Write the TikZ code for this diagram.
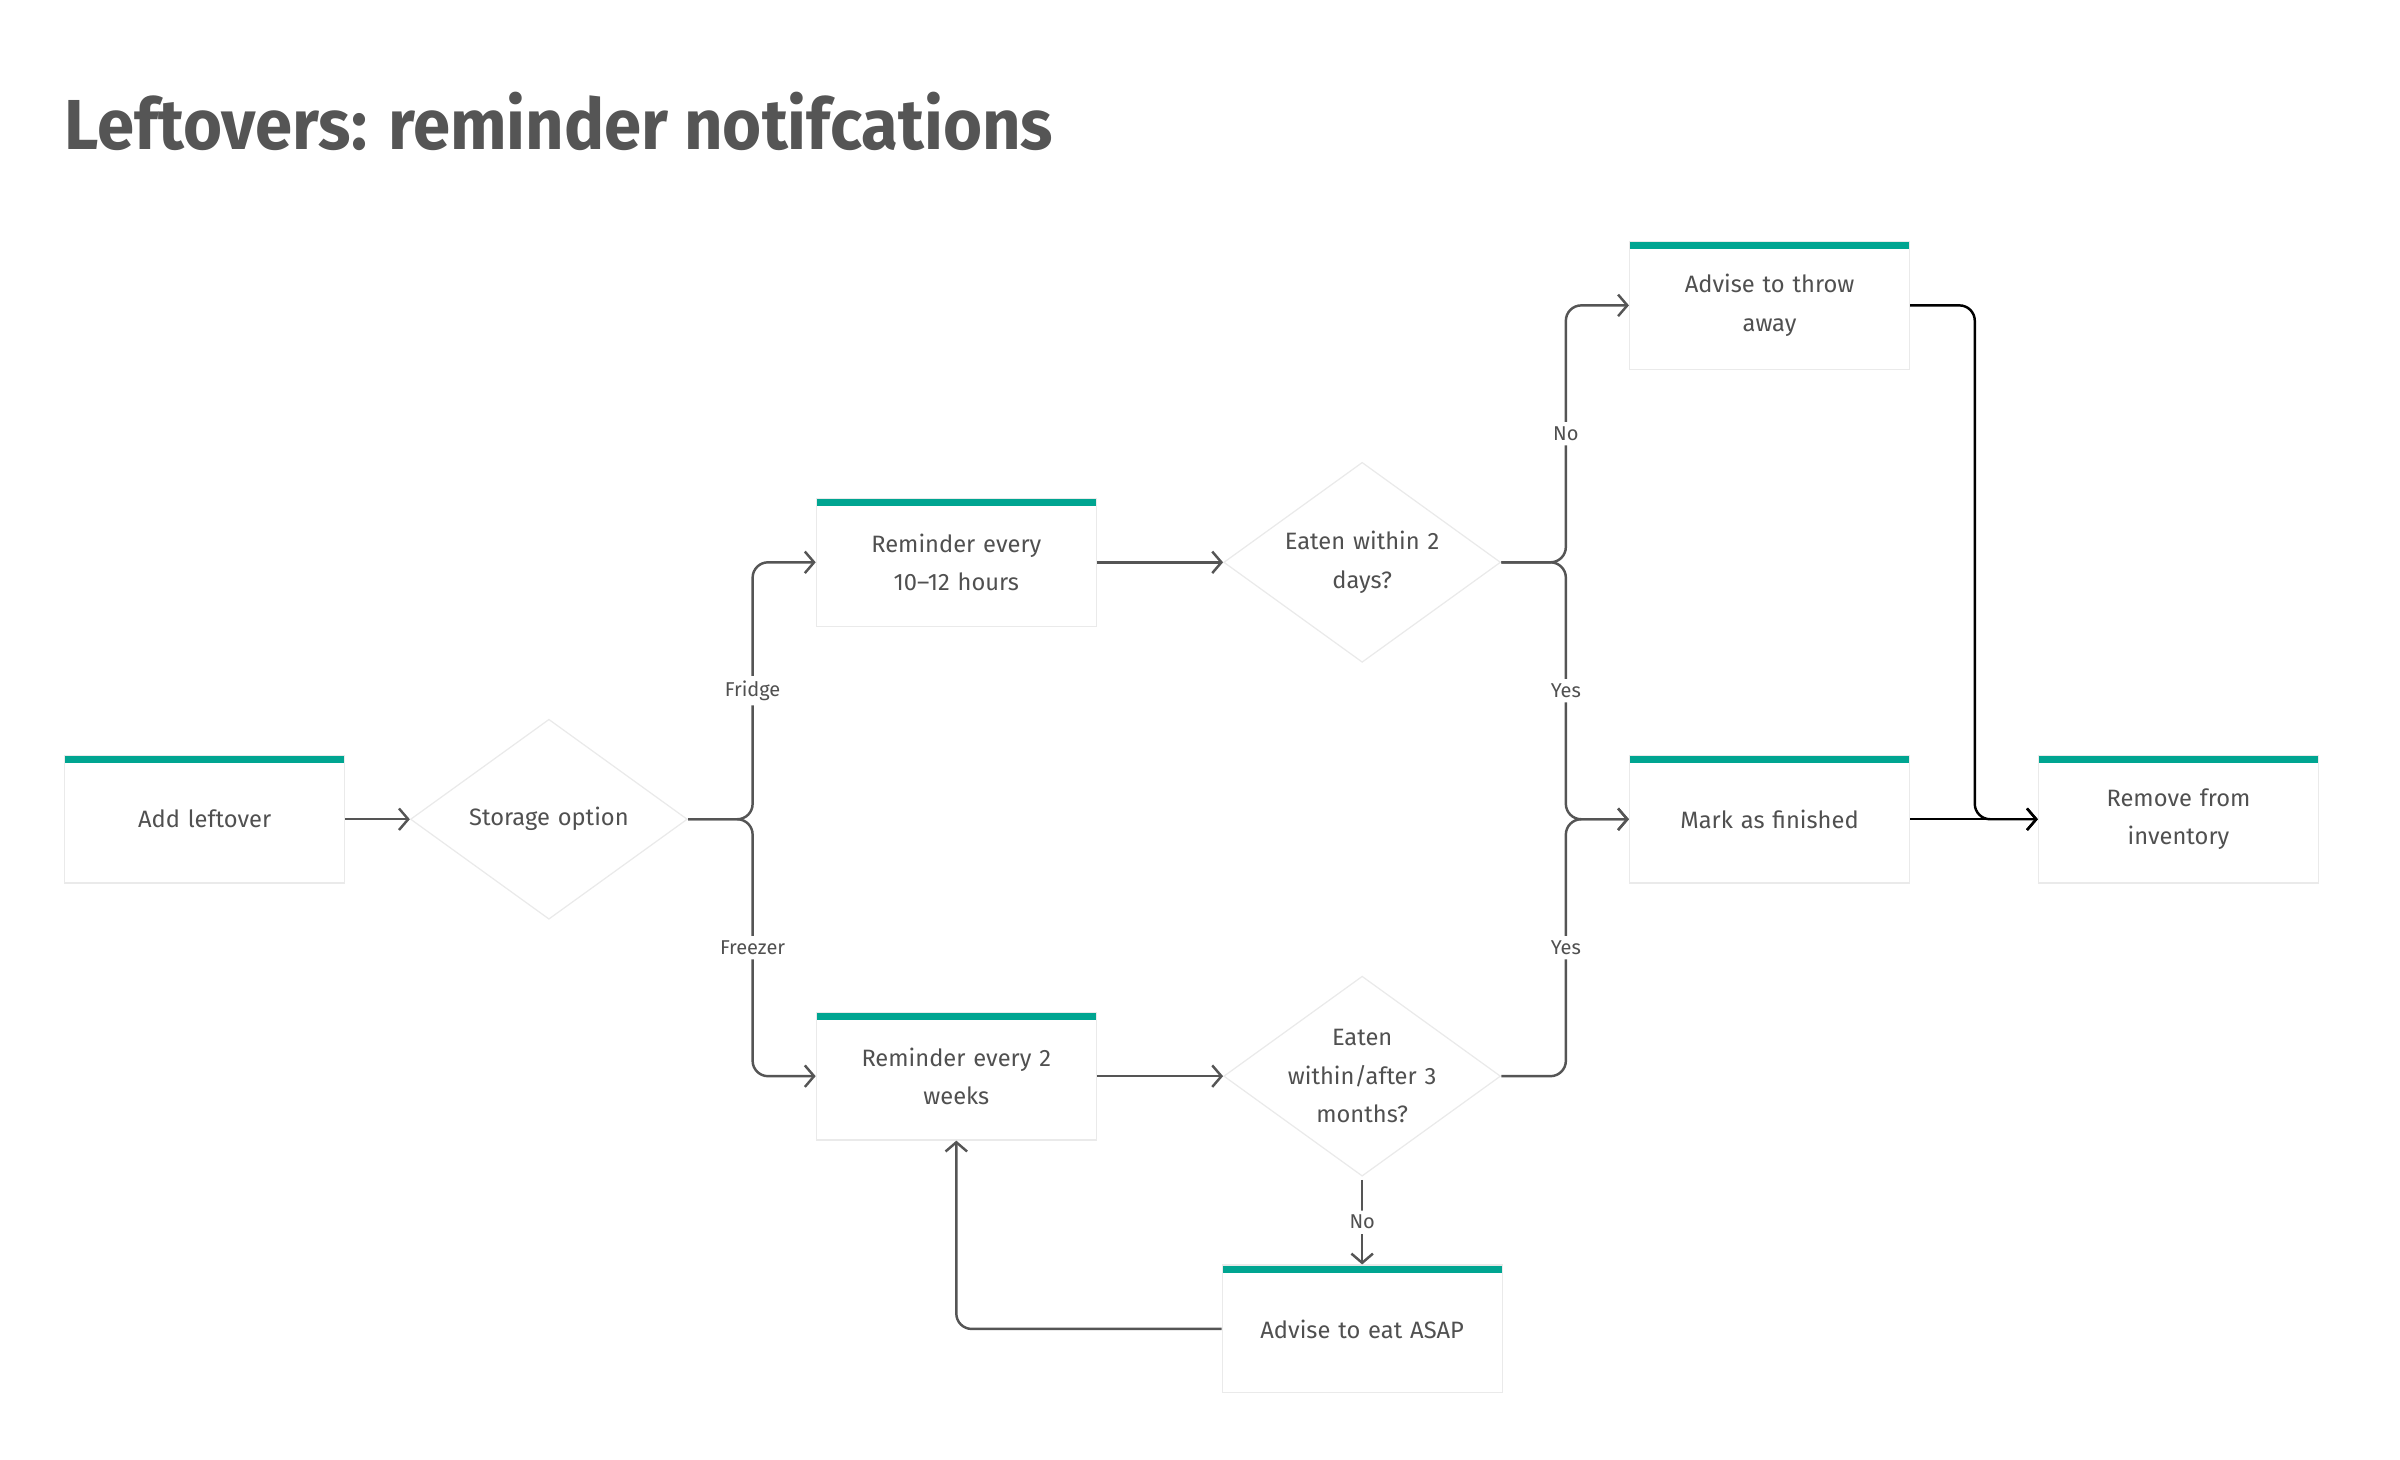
\documentclass[tikz,border=0pt]{standalone}
\usepackage{fontspec}
\setmainfont{Fira Sans}
\usepackage{tikz}
\usetikzlibrary{positioning,shapes.geometric,arrows.meta}

\definecolor{teal}{RGB}{0,165,145}
\definecolor{edgegray}{RGB}{85,85,85}
\definecolor{txtgray}{RGB}{80,80,80}
\definecolor{boxline}{RGB}{234,234,234}

\tikzset{
  box/.style={rectangle, draw=boxline, fill=white, line width=0.8pt,
    minimum width=182pt, minimum height=83pt, text width=170pt, align=center,
    font=\fontsize{15.4}{25}\selectfont, text=txtgray,
    path picture={\fill[teal] (path picture bounding box.north west)
      rectangle ([yshift=-5pt]path picture bounding box.north east);}},
  decision/.style={diamond, draw=boxline, fill=white, line width=0.8pt,
    aspect=1.385, inner sep=-6pt, minimum width=180pt, minimum height=130pt,
    text width=110pt, align=center, font=\fontsize{15.4}{25}\selectfont, text=txtgray},
  flow/.style={draw=edgegray, line width=1.6pt, rounded corners=10pt,
    -{Straight Barb[length=6pt,width=14pt]}},
  flowdark/.style={flow, draw=black},
  lbl/.style={fill=white, inner sep=3pt, font=\fontsize{13}{15}\selectfont, text=txtgray}
}

\begin{document}
\begin{tikzpicture}[x=1pt,y=-1pt]

\useasboundingbox (0,0) rectangle (1560,948.4);

% title
\node[anchor=base west, inner sep=0pt, text=edgegray,
  font=\fontsize{46}{50}\selectfont\bfseries] (title) at (42,97)
  {\scalebox{0.947}[1]{Leftovers: reminder notifcations}};

% define nodes

% start
\node[box] (add) at (133,532.5) {Add leftover};
\node[decision, right=42pt of add] (storage) {Storage option};
% reminders
\node[box, right=83pt of storage, yshift=167pt] (fridge) {Reminder every\\10--12 hours};
\node[box, right=83pt of storage, yshift=-167pt] (freezer) {Reminder every 2\\weeks};
% checks
\node[decision, right=82pt of fridge] (eattwo) {Eaten within 2\\days?};
\node[decision, right=82pt of freezer] (eatthree) {Eaten\\within/after 3\\months?};
% outcomes
\node[box, right=83pt of eattwo, yshift=167pt] (throw) {Advise to throw\\away};
\node[box, right=83pt of eattwo, yshift=-167pt] (finished) {Mark as finished};
\node[box, right=83pt of finished] (remove) {Remove from\\inventory};
\node[box, below=57pt of eatthree] (asap) {Advise to eat ASAP};

% edges

\draw[flow] (add) -- (storage);
\draw[flow] (storage.east) -- ++(42,0) |- node[lbl, pos=.25] {Fridge} (fridge.west);
\draw[flow] (storage.east) -- ++(42,0) |- node[lbl, pos=.25] {Freezer} (freezer.west);

\draw[flow] (fridge) -- (eattwo);
\draw[flow] (freezer) -- (eatthree);

\draw[flow] (eattwo.east) -- ++(42,0) |- node[lbl, pos=.25] {No} (throw.west);
\draw[flow] (eattwo.east) -- ++(42,0) |- node[lbl, pos=.25] {Yes} (finished.west);
\draw[flow] (eatthree.east) -- ++(42,0) |- node[lbl, pos=.25] {Yes} (finished.west);

\draw[flow] ([yshift=-2pt]eatthree.south) -- node[lbl] {No} (asap.north);
\draw[flow] (asap.west) -| (freezer.south);

\draw[flowdark] (throw.east) -- ++(42,0) |- (remove.west);
\draw[flowdark] (finished) -- (remove);

\end{tikzpicture}
\end{document}
